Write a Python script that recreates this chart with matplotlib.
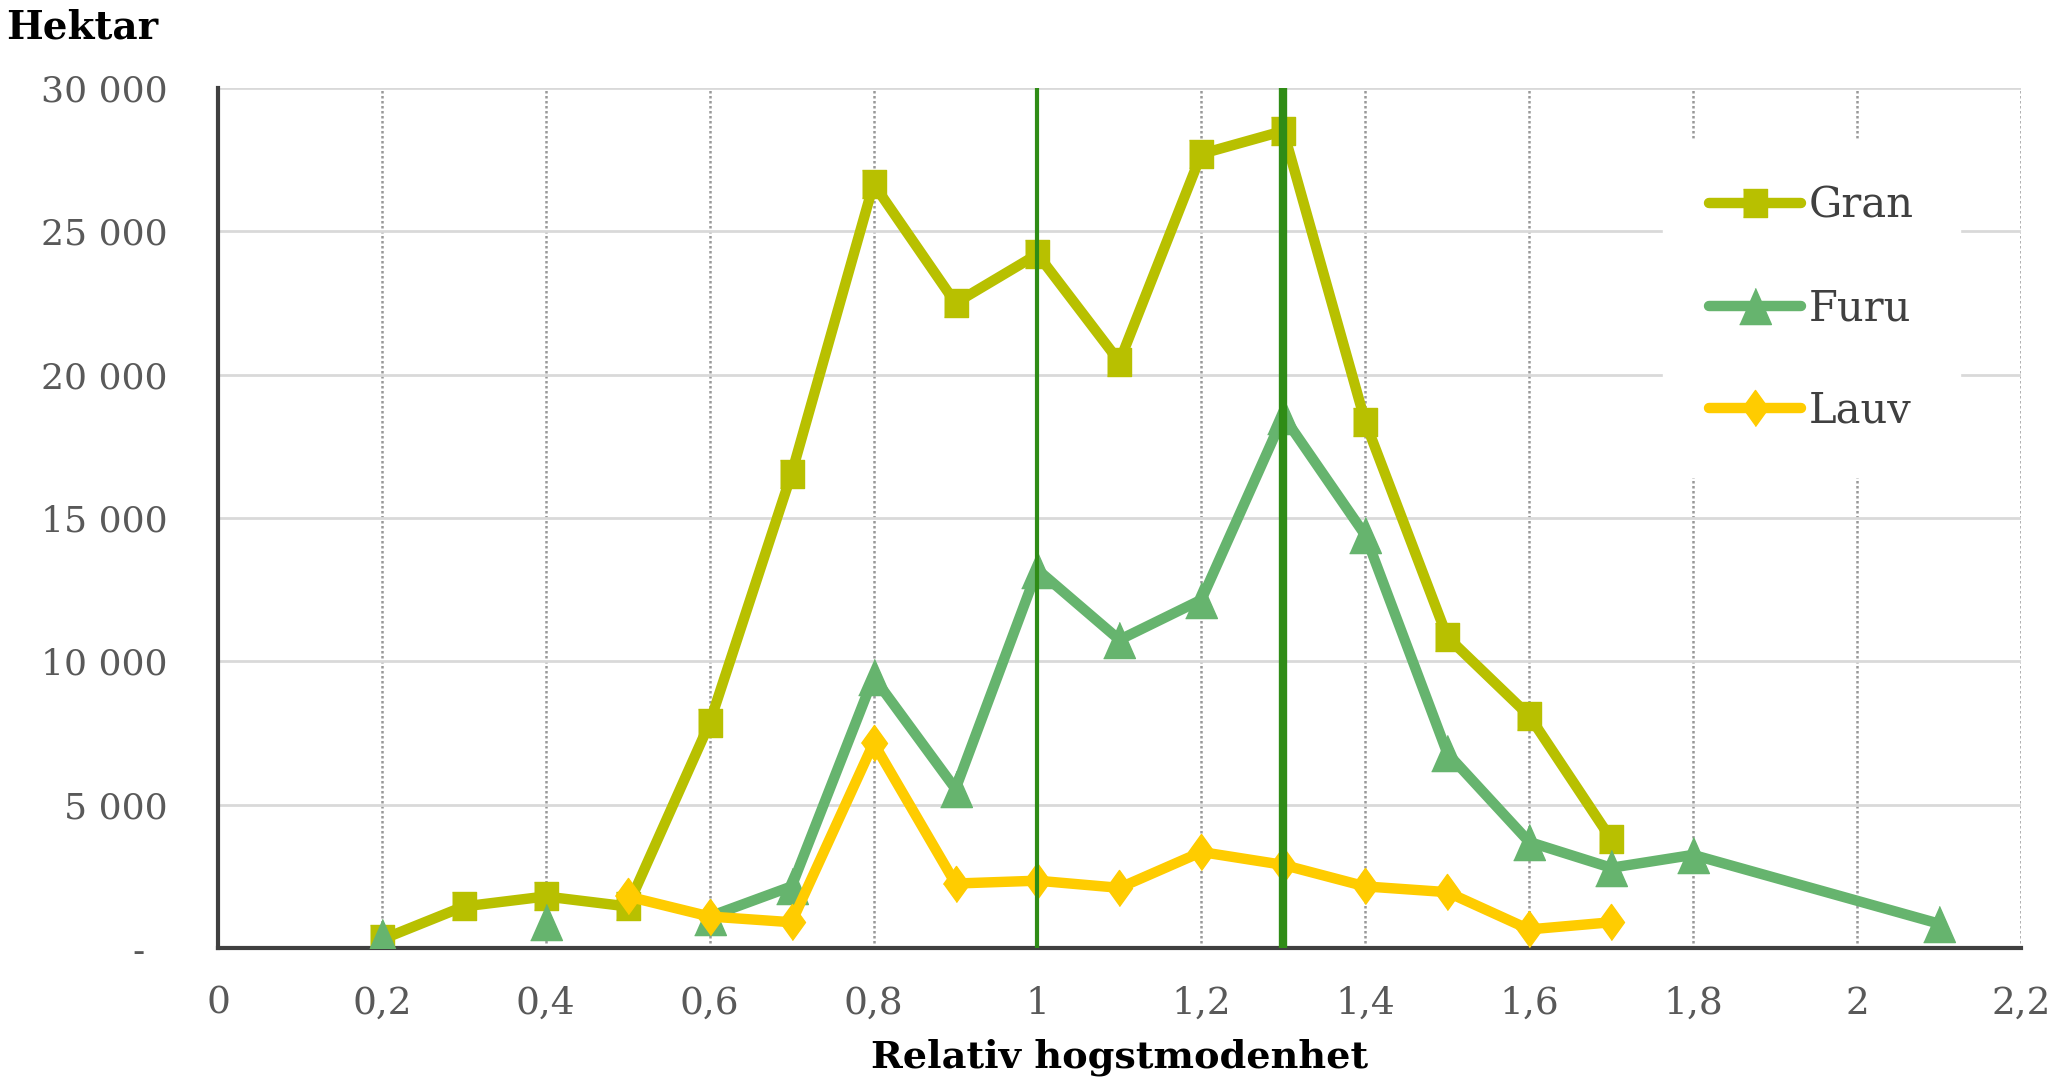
import matplotlib
matplotlib.use("Agg")
import matplotlib.pyplot as plt

plt.rcParams['font.family'] = ['DejaVu Serif']

nan = float('nan')

# relativ hogstmodenhet vs hektar
gran_x = [0.2, 0.3, 0.4, 0.5, 0.6, 0.7, 0.8, 0.9, 1.0, 1.1, 1.2, 1.3, 1.4, 1.5, 1.6, 1.7]
gran_y = [300, 1450, 1800, 1450, 7850, 16550, 26650, 22500, 24200, 20450, 27700, 28500, 18350, 10850, 8100, 3800]

# furu has no values at 0.3 and 0.5 (line broken there)
furu_x = [0.2, 0.3, 0.4, 0.5, 0.6, 0.7, 0.8, 0.9, 1.0, 1.1, 1.2, 1.3, 1.4, 1.5, 1.6, 1.7, 1.8, 2.1]
furu_y = [400, nan, 900, nan, 1100, 2150, 9450, 5550, 13200, 10750, 12150, 18550, 14400, 6800, 3700, 2800, 3250, 850]

lauv_x = [0.5, 0.6, 0.7, 0.8, 0.9, 1.0, 1.1, 1.2, 1.3, 1.4, 1.5, 1.6, 1.7]
lauv_y = [1800, 1100, 900, 7150, 2250, 2350, 2100, 3350, 2900, 2150, 1950, 650, 900]

x_ticks = [0, 0.2, 0.4, 0.6, 0.8, 1.0, 1.2, 1.4, 1.6, 1.8, 2.0, 2.2]
x_labels = ["0", "0,2", "0,4", "0,6", "0,8", "1", "1,2", "1,4", "1,6", "1,8", "2", "2,2"]
y_ticks = [0, 5000, 10000, 15000, 20000, 25000, 30000]
y_labels = ["-  ", "5 000", "10 000", "15 000", "20 000", "25 000", "30 000"]

marker_lines = [1.0, 1.3]

c_gran = "#b8c000"
c_furu = "#66b46e"
c_lauv = "#ffcc00"
c_mark = "#2f8c16"

sq = [(-0.85, -1), (0.85, -1), (0.85, 1), (-0.85, 1)]
tri = [(-0.88, -1), (0.88, -1), (0, 1)]
dia = [(0, -1), (0.72, 0), (0, 1), (-0.72, 0)]

fig = plt.figure(figsize=(20.58, 10.82), dpi=100)
ax = fig.add_axes([0.1059, 0.1238, 0.8761, 0.7949])

ax.plot(gran_x, gran_y, color=c_gran, lw=7.5, marker=sq, ms=20, label="Gran",
        solid_joinstyle='round', solid_capstyle='round', zorder=3)
ax.plot(furu_x, furu_y, color=c_furu, lw=7.5, marker=tri, ms=26, label="Furu",
        solid_joinstyle='round', solid_capstyle='round', zorder=4)
ax.plot(lauv_x, lauv_y, color=c_lauv, lw=7.5, marker=dia, ms=26, label="Lauv",
        solid_joinstyle='round', solid_capstyle='round', zorder=5)

ax.axvline(marker_lines[0], color=c_mark, lw=3, zorder=6)
ax.axvline(marker_lines[1], color=c_mark, lw=6, zorder=6)

ax.set_xlim(0, 2.2)
ax.set_ylim(0, 30000)
ax.set_xticks(x_ticks)
ax.set_xticklabels(x_labels)
ax.set_yticks(y_ticks)
ax.set_yticklabels(y_labels)
ax.tick_params(axis='both', length=0, labelcolor="#595959")
ax.tick_params(axis='x', pad=27, labelsize=27)
ax.tick_params(axis='y', pad=36, labelsize=26)

ax.grid(axis='y', color="#d9d9d9", lw=2, ls='-', zorder=0)
ax.grid(axis='x', color="#999999", lw=1.8, ls=(0, (1, 1)), zorder=0)
ax.set_axisbelow(True)

for s in ['top', 'right']:
    ax.spines[s].set_visible(False)
for s in ['left', 'bottom']:
    ax.spines[s].set_color("#404040")
    ax.spines[s].set_linewidth(3)

ax.set_xlabel("Relativ hogstmodenhet", fontsize=27.5, fontweight='bold', labelpad=12)
fig.text(0.003, 0.975, "Hektar", fontsize=28, fontweight='bold', va='center', ha='left')

leg = ax.legend(loc='upper left', bbox_to_anchor=(0.79, 0.965), fontsize=30,
                frameon=True, fancybox=False, edgecolor='white', framealpha=1,
                handlelength=2.2, handletextpad=0.2, labelspacing=1.45, borderpad=1.1)
for t in leg.get_texts():
    t.set_color("#404040")

fig.savefig("out.png", dpi=100)
